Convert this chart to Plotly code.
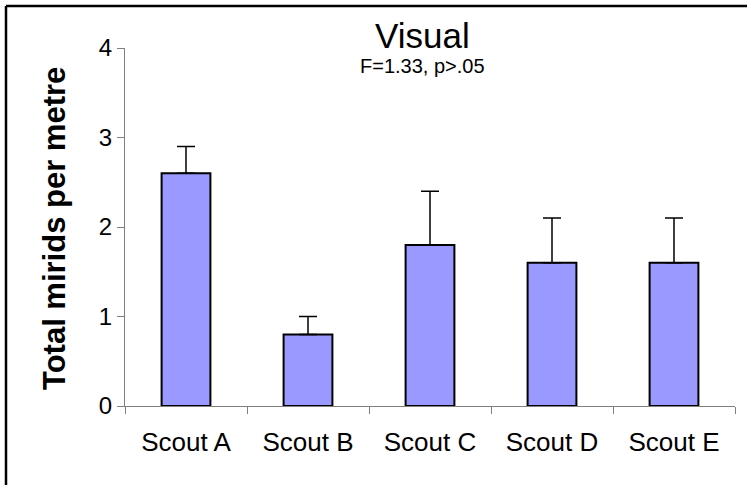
import plotly.graph_objects as go

scouts = ["Scout A", "Scout B", "Scout C", "Scout D", "Scout E"]
mirids = [2.6, 0.8, 1.8, 1.6, 1.6]
err_up = [0.3, 0.2, 0.6, 0.5, 0.5]
err_down = [0, 0, 0, 0, 0]
y_ticks = [0, 1, 2, 3, 4]

FONT = "Liberation Sans, Arial, sans-serif"
W, H = 747, 485
# plot area in pixels: x 125..735, y 48..406
L, R, T, B = 125, W - 735, 48, H - 406
pw = W - L - R
ph = H - T - B

def px_x(x):
    return (x - L) / pw

def px_y(y):
    return (H - B - y) / ph

layout = go.Layout(
    width=W, height=H,
    margin=dict(l=L, r=R, t=T, b=B),
    paper_bgcolor="white", plot_bgcolor="white",
    font=dict(family=FONT, color="black"),
    showlegend=False,
    bargap=0.6,
    xaxis=dict(showline=True, linecolor="#808080", linewidth=1,
               ticks="outside", tickson="boundaries", ticklen=7,
               tickcolor="#808080", showgrid=False, zeroline=False,
               ticklabelstandoff=13, tickfont=dict(size=26)),
    yaxis=dict(range=[0, 4], tickvals=y_ticks, showline=True,
               linecolor="#808080", linewidth=1, ticks="outside",
               ticklen=7, tickcolor="#808080", showgrid=False,
               zeroline=False, tickfont=dict(size=24)),
)
fig = go.Figure(layout=layout)

fig.add_trace(go.Bar(
    x=scouts, y=mirids,
    marker=dict(color="#9999FF", line=dict(color="black", width=2)),
    error_y=dict(type="data", symmetric=False, array=err_up,
                 arrayminus=err_down, color="black", thickness=1.5, width=9),
))

# titles
fig.add_annotation(text="Visual", xref="paper", yref="paper",
                   x=px_x(422), y=px_y(36), showarrow=False,
                   xanchor="center", yanchor="middle", borderpad=0,
                   font=dict(size=35))
fig.add_annotation(text="F=1.33, p>.05", xref="paper", yref="paper",
                   x=px_x(422), y=px_y(66), showarrow=False,
                   xanchor="center", yanchor="middle", borderpad=0,
                   font=dict(size=20))
fig.add_annotation(text="<b>Total mirids per metre</b>", xref="paper",
                   yref="paper", x=px_x(54), y=px_y(229), textangle=-90,
                   showarrow=False, xanchor="center", yanchor="middle",
                   font=dict(size=31))

# blank strip on the right edge, past the end of the x axis
fig.add_shape(type="rect", xref="paper", yref="paper", layer="above",
              x0=px_x(737), y0=px_y(H), x1=px_x(W), y1=px_y(0),
              line=dict(width=0), fillcolor="white")

# chart frame: only top and left edges show (cropped at right/bottom)
fig.add_shape(type="line", xref="paper", yref="paper", layer="above",
              x0=px_x(6), y0=px_y(6), x1=px_x(W), y1=px_y(6),
              line=dict(color="black", width=2.5))
fig.add_shape(type="line", xref="paper", yref="paper", layer="above",
              x0=px_x(6), y0=px_y(6), x1=px_x(6), y1=px_y(H),
              line=dict(color="black", width=2.5))

# no page margin and no scrollbars, so the figure fills the window exactly
fig.write_html("out.html", config={"displayModeBar": False},
               post_script="document.body.style.margin='0';"
                           "document.body.style.overflow='hidden';"
                           "document.documentElement.style.overflow='hidden';")
